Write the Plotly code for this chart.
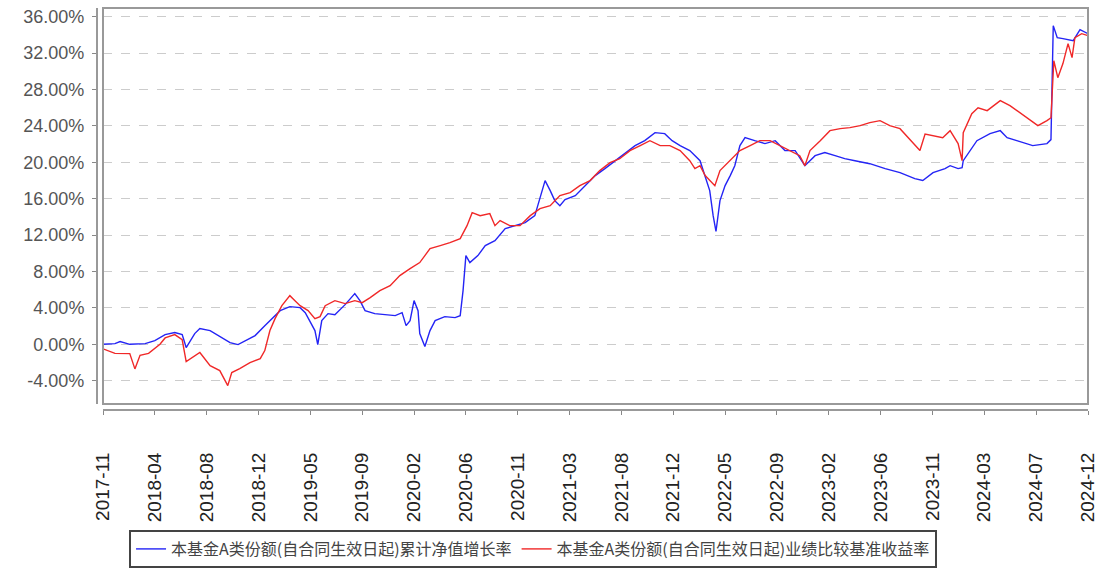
import plotly.graph_objects as go

# ---------------- data ----------------
# x: trading-day index since start of the period; y: cumulative return (%)
tick_labels = ["2017-11", "2018-04", "2018-08", "2018-12", "2019-05", "2019-09",
               "2020-02", "2020-06", "2020-11", "2021-03", "2021-08", "2021-12",
               "2022-05", "2022-09", "2023-02", "2023-06", "2023-11", "2024-03",
               "2024-07", "2024-12"]
tick_days = [0, 91, 182, 273, 364, 455, 546, 637, 728, 819, 910, 1001,
             1092, 1183, 1274, 1365, 1456, 1547, 1638, 1729]

y_ticks = [-4, 0, 4, 8, 12, 16, 20, 24, 28, 32, 36]

blue_name = "本基金A类份额(自合同生效日起)累计净值增长率"
red_name = "本基金A类份额(自合同生效日起)业绩比较基准收益率"

blue_day = [0, 21, 30, 47, 74, 91, 109, 126, 139, 146, 161, 170, 188, 205, 223, 237,
            249, 267, 284, 297, 311, 328, 346, 355, 363, 372, 377, 384, 395, 407, 425,
            442, 451, 460, 477, 495, 513, 525, 532, 539, 546, 553, 556, 565, 574, 583,
            600, 618, 627, 632, 637, 644, 658, 671, 688, 706, 723, 741, 758, 767, 776,
            785, 793, 802, 811, 829, 846, 864, 881, 899, 916, 934, 951, 969, 986, 999,
            1013, 1030, 1048, 1057, 1065, 1071, 1076, 1083, 1092, 1101, 1109, 1118,
            1127, 1144, 1162, 1180, 1197, 1215, 1232, 1250, 1267, 1285, 1302, 1320,
            1346, 1373, 1399, 1425, 1439, 1457, 1478, 1487, 1501, 1508, 1510, 1534,
            1557, 1575, 1587, 1604, 1632, 1657, 1664, 1668, 1675, 1685, 1703, 1715, 1729]
blue_val = [0.0, 0.08, 0.3, 0.0, 0.08, 0.41, 1.07, 1.29, 1.07, -0.36, 1.18, 1.73, 1.51,
            0.85, 0.19, -0.03, 0.4, 0.96, 2.05, 2.82, 3.7, 4.14, 4.03, 3.48, 2.6, 1.51,
            -0.03, 2.6, 3.37, 3.26, 4.36, 5.57, 4.8, 3.7, 3.37, 3.26, 3.15, 3.48, 2.05,
            2.6, 4.8, 3.7, 1.18, -0.25, 1.51, 2.6, 3.04, 2.93, 3.15, 5.9, 9.75, 8.98,
            9.75, 10.85, 11.4, 12.72, 13.04, 13.37, 14.14, 16.0, 17.99, 16.89, 15.79,
            15.24, 15.9, 16.34, 17.44, 18.54, 19.31, 20.18, 21.07, 21.84, 22.38, 23.26,
            23.15, 22.38, 21.84, 21.29, 20.18, 18.54, 16.89, 14.14, 12.4, 15.79, 17.44,
            18.54, 19.63, 21.84, 22.71, 22.38, 22.06, 22.38, 21.29, 21.29, 19.63, 20.73,
            21.07, 20.73, 20.4, 20.18, 19.85, 19.31, 18.87, 18.2, 18.0, 18.87, 19.31,
            19.63, 19.31, 19.4, 20.18, 22.38, 23.15, 23.48, 22.71, 22.38, 21.84, 22.06,
            22.5, 35.02, 33.7, 33.6, 33.37, 34.58, 34.14]

red_day = [0, 21, 47, 56, 65, 80, 100, 109, 126, 139, 146, 155, 170, 188, 205, 219,
           226, 240, 258, 276, 284, 293, 302, 314, 328, 337, 346, 360, 372, 381, 390,
           407, 425, 442, 455, 469, 486, 504, 521, 539, 556, 565, 574, 592, 609, 627,
           639, 648, 662, 679, 688, 697, 714, 732, 750, 767, 785, 802, 820, 837, 855,
           872, 890, 907, 925, 943, 960, 978, 995, 1013, 1030, 1039, 1048, 1057, 1065,
           1074, 1083, 1101, 1118, 1136, 1153, 1171, 1188, 1206, 1223, 1232, 1241,
           1259, 1276, 1294, 1311, 1329, 1346, 1364, 1381, 1399, 1434, 1443, 1474,
           1487, 1501, 1508, 1510, 1525, 1536, 1552, 1575, 1592, 1604, 1622, 1641,
           1657, 1664, 1669, 1676, 1685, 1694, 1701, 1706, 1718, 1729]
red_val = [-0.5, -1.0, -1.02, -2.7, -1.2, -1.0, 0.0, 0.7, 1.07, 0.5, -1.9, -1.5, -0.9,
           -2.34, -2.89, -4.54, -3.11, -2.67, -2.01, -1.57, -0.69, 1.51, 2.82, 4.25,
           5.35, 4.8, 4.25, 3.7, 2.82, 3.04, 4.25, 4.8, 4.47, 4.8, 4.58, 5.13, 5.9, 6.45,
           7.55, 8.32, 8.98, 9.75, 10.52, 10.85, 11.18, 11.62, 13.04, 14.47, 14.14,
           14.36, 13.04, 13.6, 13.04, 13.04, 14.14, 14.91, 15.24, 16.34, 16.67, 17.44,
           17.99, 19.09, 19.96, 20.4, 21.29, 21.84, 22.38, 21.84, 21.84, 21.29, 20.18,
           19.31, 19.63, 18.54, 17.99, 17.44, 19.09, 20.18, 21.29, 21.84, 22.38, 22.38,
           21.84, 21.29, 20.73, 19.63, 21.29, 22.38, 23.48, 23.7, 23.81, 24.03, 24.36,
           24.58, 24.03, 23.7, 21.3, 23.1, 22.71, 23.48, 22.06, 20.18, 23.26, 25.34,
           26.0, 25.68, 26.78, 26.23, 25.68, 24.8, 24.03, 24.58, 24.9, 31.17, 29.3,
           30.85, 33.04, 31.5, 33.7, 34.14, 33.92]

# ---------------- figure ----------------
fig = go.Figure()
fig.add_trace(go.Scatter(x=blue_day, y=blue_val, mode="lines", name=blue_name,
                         line=dict(color="#2424f5", width=1.4)))
fig.add_trace(go.Scatter(x=red_day, y=red_val, mode="lines", name=red_name,
                         line=dict(color="#f02828", width=1.4)))

W, H = 1104, 568
ml, mr, mt, mb = 97, 16, 8, 158
pw, ph = W - ml - mr, H - mt - mb
off = 6

fig.update_layout(
    width=W, height=H,
    margin=dict(l=ml, r=mr, t=mt, b=mb, pad=0, autoexpand=False),
    paper_bgcolor="white", plot_bgcolor="white",
    showlegend=True,
    legend=dict(orientation="h", x=0.44, xanchor="center", y=(-(530 - (H - mb)) / ph),
                yanchor="top", bordercolor="#444444", borderwidth=2,
                font=dict(family="Noto Sans CJK SC", size=16, color="#444444"),
                bgcolor="white", itemwidth=30),
    xaxis=dict(domain=[off / pw, 1], anchor="free", position=0, automargin=False,
               range=[0, 1729], tickmode="array", tickvals=tick_days,
               ticktext=tick_labels, tickangle=-90, ticks="outside", ticklen=4,
               tickcolor="#888888", showline=True, linecolor="#999999", linewidth=2,
               showgrid=False, zeroline=False, ticklabelstandoff=30,
               tickfont=dict(family="Liberation Sans", size=19, color="#222222")),
    yaxis=dict(domain=[off / ph, 1], anchor="free", position=0, automargin=False,
               range=[-6.56, 36.96], tickmode="array", tickvals=y_ticks,
               ticktext=[f"{v:.2f}%" for v in y_ticks], ticks="outside", ticklen=4,
               tickcolor="#888888", showline=True, linecolor="#999999", linewidth=2,
               showgrid=True, gridcolor="#cccccc", griddash="dash", gridwidth=1,
               zeroline=False, ticklabelstandoff=4,
               tickfont=dict(family="Liberation Sans", size=18, color="#555555")),
)
fig.add_shape(type="rect", xref="x domain", yref="y domain", x0=0, x1=1, y0=0, y1=1,
              line=dict(color="#999999", width=2), layer="above")

fig.write_html("out.html", config={"displayModeBar": False},
               post_script="document.body.style.margin='0px';"
                           "document.body.style.overflow='hidden';")
